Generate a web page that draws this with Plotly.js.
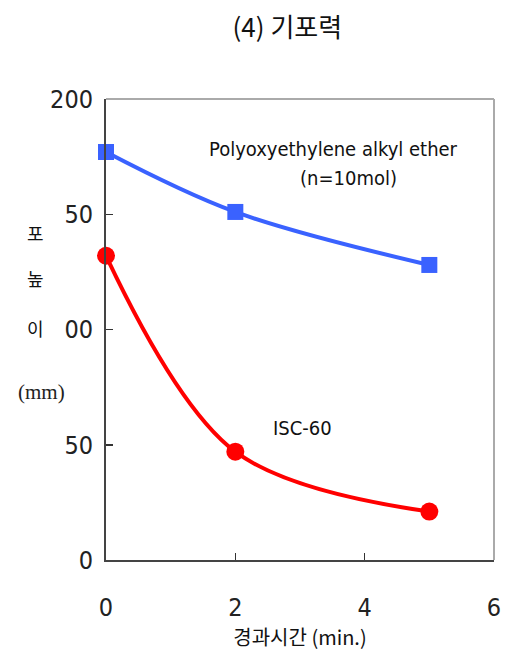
<!DOCTYPE html>
<html>
<head>
<meta charset="utf-8">
<script src="https://cdn.plot.ly/plotly-3.0.1.min.js"></script>
<style>html,body{margin:0;padding:0;background:#fff;}#chart{width:515px;height:654px;}</style>
</head>
<body>
<div id="chart"></div>
<script>
// Data
const timeMin = [0, 2, 5];
const polyoxyHeight = [177, 151, 128];
const iscHeight = [132, 47, 21];
const yTickVals = [0, 50, 100, 150, 200];
const yTickText = ["0", "50", "00", "50", "200"];
const xTickVals = [0, 2, 4, 6];

const NUM_FONT = '"DejaVu Sans Condensed", "Liberation Sans Narrow", "Liberation Sans", sans-serif';
const KR_FONT = '"Noto Sans CJK KR", "Noto Sans", sans-serif';

const traces = [
  {
    x: timeMin, y: polyoxyHeight, type: 'scatter', mode: 'lines+markers',
    line: {color: '#3a62ff', width: 4, shape: 'spline', smoothing: 1},
    marker: {symbol: 'square', size: 16, color: '#3a62ff'},
    name: 'Polyoxyethylene alkyl ether', cliponaxis: false
  },
  {
    x: timeMin, y: iscHeight, type: 'scatter', mode: 'lines+markers',
    line: {color: '#ff0000', width: 4, shape: 'spline', smoothing: 1},
    marker: {symbol: 'circle', size: 18, color: '#ff0000'},
    name: 'ISC-60', cliponaxis: false
  }
];

const layout = {
  width: 515, height: 654,
  margin: {l: 106, r: 21, t: 99, b: 94},
  paper_bgcolor: '#fff', plot_bgcolor: '#fff',
  showlegend: false,
  title: {text: '(4) 기포력', font: {family: KR_FONT, size: 26, color: '#111'}, x: 0.558, xanchor: 'center', y: 0.958, yanchor: 'middle'},
  xaxis: {
    range: [0, 6], tickvals: xTickVals, ticks: 'inside', ticklen: 7, tickwidth: 1.5, tickcolor: '#333',
    showline: true, linecolor: '#444', linewidth: 2, showgrid: false, zeroline: false,
    tickfont: {family: NUM_FONT, size: 25, color: '#222'}, ticklabelstandoff: 24,
    title: {text: '경과시간 (min.)', font: {family: KR_FONT, size: 20, color: '#111'}, standoff: 6}
  },
  yaxis: {
    range: [0, 200], tickvals: yTickVals, ticktext: yTickText, ticks: 'inside', ticklen: 7, tickwidth: 1.5, tickcolor: '#333',
    showline: true, linecolor: '#444', linewidth: 2, showgrid: false, zeroline: false,
    tickfont: {family: NUM_FONT, size: 25, color: '#222'}, ticklabelstandoff: 6
  },
  shapes: [
    {type: 'line', xref: 'paper', yref: 'paper', x0: 0, x1: 1, y0: 1, y1: 1, line: {color: '#aaa', width: 2}},
    {type: 'line', xref: 'paper', yref: 'paper', x0: 1, x1: 1, y0: 0, y1: 1, line: {color: '#aaa', width: 2}}
  ],
  annotations: [
    {text: 'Polyoxyethylene alkyl ether', xref: 'paper', yref: 'paper', x: (333 - 106) / 388, y: (560 - 149) / 461, showarrow: false, xanchor: 'center', yanchor: 'middle', font: {family: NUM_FONT, size: 20, color: '#111'}},
    {text: '(n=10mol)', xref: 'paper', yref: 'paper', x: (348 - 106) / 388, y: (560 - 178) / 461, showarrow: false, xanchor: 'center', yanchor: 'middle', font: {family: NUM_FONT, size: 20, color: '#111'}},
    {text: 'ISC-60', xref: 'paper', yref: 'paper', x: (302 - 106) / 388, y: (560 - 428) / 461, showarrow: false, xanchor: 'center', yanchor: 'middle', font: {family: NUM_FONT, size: 20, color: '#111'}},
    {text: '포', xref: 'paper', yref: 'paper', x: (35 - 106) / 388, y: (560 - 233) / 461, showarrow: false, xanchor: 'center', yanchor: 'middle', font: {family: KR_FONT, size: 18, color: '#111'}},
    {text: '높', xref: 'paper', yref: 'paper', x: (35 - 106) / 388, y: (560 - 278) / 461, showarrow: false, xanchor: 'center', yanchor: 'middle', font: {family: KR_FONT, size: 18, color: '#111'}},
    {text: '이', xref: 'paper', yref: 'paper', x: (35 - 106) / 388, y: (560 - 328) / 461, showarrow: false, xanchor: 'center', yanchor: 'middle', font: {family: KR_FONT, size: 18, color: '#111'}},
    {text: '(mm)', xref: 'paper', yref: 'paper', x: (41 - 106) / 388, y: (560 - 392) / 461, showarrow: false, xanchor: 'center', yanchor: 'middle', font: {family: '"Liberation Serif", "DejaVu Serif", serif', size: 21, color: '#222'}}
  ]
};

Plotly.newPlot('chart', traces, layout, {displayModeBar: false, staticPlot: true});
</script>
</body>
</html>
